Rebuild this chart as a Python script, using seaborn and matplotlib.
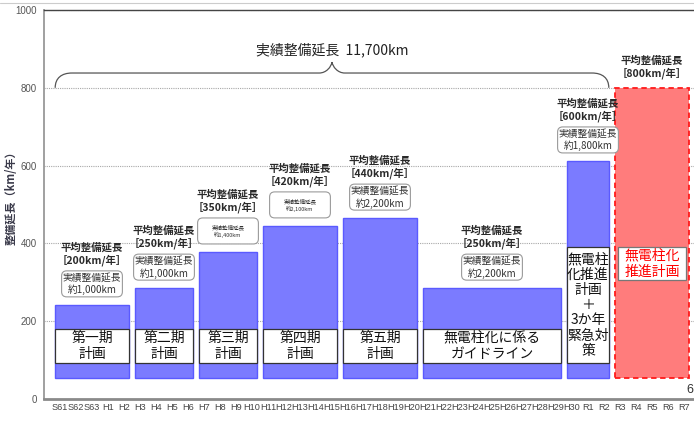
import matplotlib
matplotlib.use("Agg")
import matplotlib.pyplot as plt
import seaborn as sns
from matplotlib.patches import FancyBboxPatch, Rectangle, PathPatch
from matplotlib.path import Path
from matplotlib.lines import Line2D

# ---------------- data ----------------
years = ["S61", "S62", "S63",
         "H1", "H2", "H3", "H4", "H5", "H6", "H7", "H8", "H9", "H10",
         "H11", "H12", "H13", "H14", "H15", "H16", "H17", "H18", "H19", "H20",
         "H21", "H22", "H23", "H24", "H25", "H26", "H27", "H28", "H29", "H30",
         "R1", "R2", "R3", "R4", "R5", "R6", "R7"]
period_start = ["S61", "H3", "H7", "H11", "H16", "H21", "H30", "R3"]
period_end = ["H2", "H6", "H10", "H15", "H20", "H29", "R2", "R7"]
bar_top = [242, 285, 378, 445, 465, 285, 612, 800]
bar_base = 53
plan_names = ["第一期\n計画", "第二期\n計画", "第三期\n計画", "第四期\n計画",
              "第五期\n計画", "無電柱化に係る\nガイドライン",
              "無電柱\n化推進\n計画\n＋\n3か年\n緊急対\n策",
              "無電柱化\n推進計画"]
label_lo = [92, 92, 92, 92, 92, 92, 92, 306]
label_hi = [180, 180, 180, 180, 180, 180, 391, 391]
avg_rate = ["200", "250", "350", "420", "440", "250", "600", "800"]
actual_len = ["約1,000km", "約1,000km", "約1,400km", "約2,100km",
              "約2,200km", "約2,200km", "約1,800km", None]
tiny_box = [False, False, True, True, False, False, False, False]
total_label = "実績整備延長  11,700km"
yticks = [0, 200, 400, 600, 800, 1000]

# ---------------- style ----------------
sns.set_theme(style="white")
plt.rcParams["font.family"] = ["Noto Sans CJK JP", "DejaVu Sans"]

W, H = 694, 421
fig = plt.figure(figsize=(W / 100, H / 100), dpi=100)
ax = fig.add_axes([44 / W, 22 / H, (W - 44) / W, 389 / H])
ax.set_xlim(-1, 39.625)
ax.set_ylim(0, 1000)

ax.set_axisbelow(True)
ax.yaxis.grid(True, linestyle=(0, (1, 1)), color="#a8a8a8", linewidth=0.8)
ax.xaxis.grid(False)

ax.spines["right"].set_visible(False)
ax.spines["top"].set_color("#444444")
ax.spines["top"].set_linewidth(1.0)
ax.spines["left"].set_color("#999999")
ax.spines["left"].set_linewidth(1.3)
ax.spines["bottom"].set_color("#8a8a8a")
ax.spines["bottom"].set_linewidth(2.0)

ax.set_yticks(yticks)
ax.set_yticklabels([str(v) for v in yticks], fontsize=7, color="#555555",
                   family="Liberation Sans")
ax.set_xticks(range(len(years)))
ax.set_xticklabels(years, fontsize=6.6, color="#444444", family="Liberation Sans")
ax.tick_params(axis="y", length=0, pad=5)
ax.tick_params(axis="x", length=0, pad=3)
ax.set_ylabel("整備延長（km/年）", fontsize=8, fontweight="bold",
              color="#3a3a4a")
ax.yaxis.set_label_coords(-0.041, 0.525)

idx = {y: i for i, y in enumerate(years)}
gap = 0.2
px_x = 16.0            # pixels per x unit
px_y = 389 / 1000.0    # pixels per y unit
u = 1 / px_y           # y units per pixel

lefts, rights = [], []
for i in range(len(bar_top)):
    l = idx[period_start[i]] - 0.5 + gap
    r = idx[period_end[i]] + 0.5 - gap
    lefts.append(l)
    rights.append(r)
    last = i == len(bar_top) - 1
    if last:
        ax.bar((l + r) / 2, bar_top[i] - bar_base, width=r - l, bottom=bar_base,
               color="#ff7c7c", edgecolor="#ff1a1a", linewidth=1.3,
               linestyle=(0, (3, 2)), zorder=2)
    else:
        ax.bar((l + r) / 2, bar_top[i] - bar_base, width=r - l, bottom=bar_base,
               color="#7b7bff", edgecolor="#5a5aff", linewidth=1.0, zorder=2)

    cx = (l + r) / 2
    inset = 0.19 if last else 0.0
    ax.add_patch(Rectangle((l + inset, label_lo[i]), (r - l) - 2 * inset,
                           label_hi[i] - label_lo[i], facecolor="white",
                           edgecolor="#777777" if last else "#333333",
                           linewidth=0.9, zorder=3))
    nlines = plan_names[i].count("\n") + 1
    ax.text(cx, (label_lo[i] + label_hi[i]) / 2, plan_names[i],
            ha="center", va="center", fontsize=10,
            color="#ff0000" if last else "#111111",
            linespacing=1.12 if nlines > 3 else 1.25, zorder=4)

    if actual_len[i] is not None:
        box_c = bar_top[i] + 21 * u
        box_h = 26 * u
        box_w = 3.8
        ax.add_patch(FancyBboxPatch((cx - box_w / 2, box_c - box_h / 2), box_w, box_h,
                                    boxstyle="round,pad=0,rounding_size=0.32",
                                    mutation_aspect=px_x / px_y,
                                    facecolor="white", edgecolor="#9a9a9a",
                                    linewidth=0.8, zorder=3))
        ax.text(cx, box_c, "実績整備延長\n" + actual_len[i], ha="center", va="center",
                fontsize=4 if tiny_box[i] else 7, color="#333333",
                linespacing=1.3, zorder=4)
        head_y = bar_top[i] + 51 * u
    else:
        head_y = bar_top[i] + 21 * u
    ax.text(cx, head_y, "平均整備延長\n［" + avg_rate[i] + "km/年］", ha="center",
            va="center", fontsize=7.5, fontweight="bold", color="#2a2a2a",
            linespacing=1.2, zorder=4)

# ---------------- brace over bars 1-7 ----------------
xl, xr = lefts[0], rights[6]
xc = (xl + xr) / 2
y0, y1, y2 = 800, 838, 866
verts = [(xl, y0), (xl, y0 + 25), (xl + 0.4, y1), (xl + 1.05, y1),
         (xc - 0.8, y1),
         (xc - 0.35, y1), (xc - 0.05, y2 - 12), (xc, y2),
         (xc + 0.05, y2 - 12), (xc + 0.35, y1), (xc + 0.8, y1),
         (xr - 1.05, y1),
         (xr - 0.4, y1), (xr, y0 + 25), (xr, y0)]
codes = [Path.MOVETO, Path.CURVE4, Path.CURVE4, Path.CURVE4,
         Path.LINETO,
         Path.CURVE4, Path.CURVE4, Path.CURVE4,
         Path.CURVE4, Path.CURVE4, Path.CURVE4,
         Path.LINETO,
         Path.CURVE4, Path.CURVE4, Path.CURVE4]
ax.add_patch(PathPatch(Path(verts, codes), facecolor="none", edgecolor="#555555",
                       linewidth=0.9, zorder=3))
ax.text(xc, 897, total_label, ha="center", va="center", fontsize=10,
        color="#222222", zorder=4)

# page frame line and page number
fig.add_artist(Line2D([0, 1], [1 - 2.5 / H, 1 - 2.5 / H], color="#cccccc",
                      linewidth=0.8, transform=fig.transFigure))
fig.text(686 / W, 1 - 390 / H, "6", ha="left", va="center", fontsize=9,
         color="#333333", family="Liberation Sans")

fig.savefig("out.png", dpi=100)
